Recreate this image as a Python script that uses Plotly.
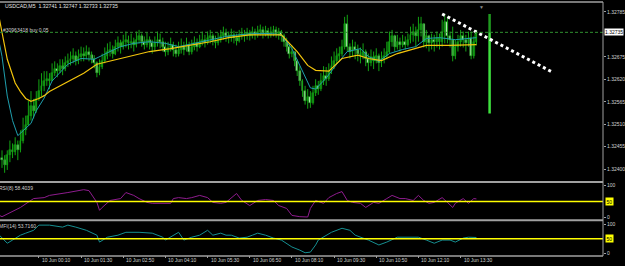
import plotly.graph_objects as go

# ---------------- data (prices in points of 0.00001 above 1.32000) ----------------
BASE = 1.32
PT = 0.00001

# M5 bars, index 0 = 7 Jun 2019 23:00
first_open_pts = 427
close_pts = [
    422, 410, 434, 446, 441, 458, 446, 470, 495, 507,
    531, 555, 543, 572, 591, 604, 616, 620, 616, 635,
    645, 640, 652, 645, 659, 664, 669, 676, 664, 674,
    683, 676, 688, 679, 669, 659, 635, 650, 664, 676,
    688, 693, 683, 700, 708, 698, 712, 717, 708, 712,
    703, 717, 725, 712, 705, 717, 708, 698, 708, 717,
    712, 700, 688, 696, 703, 693, 683, 693, 700, 693,
    703, 688, 698, 708, 700, 712, 717, 710, 720, 725,
    715, 708, 717, 727, 734, 727, 720, 729, 722, 715,
    725, 732, 725, 734, 727, 737, 729, 737, 741, 732,
    739, 729, 737, 741, 732, 737, 725, 712, 700, 683,
    688, 664, 640, 616, 591, 567, 577, 562, 587, 604,
    596, 616, 628, 620, 640, 652, 664, 676, 683, 700,
    756, 698, 688, 700, 693, 683, 676, 688, 669, 659,
    674, 664, 676, 659, 669, 676, 688, 712, 725, 700,
    712, 703, 712, 705, 717, 729, 737, 725, 741, 756,
    712, 725, 708, 717, 712, 722, 712, 737, 761, 725,
    717, 676, 700, 712, 725, 717, 708, 722, 676, 712, 734,
]
high_pts = [
    446, 434, 446, 470, 463, 478, 470, 495, 526, 531,
    567, 591, 572, 591, 620, 635, 640, 640, 635, 659,
    664, 659, 669, 669, 676, 683, 688, 696, 688, 693,
    700, 698, 703, 698, 688, 679, 664, 669, 683, 698,
    708, 712, 703, 717, 725, 717, 729, 737, 727, 732,
    722, 737, 741, 732, 725, 734, 725, 717, 725, 737,
    732, 722, 712, 712, 722, 712, 705, 712, 720, 712,
    722, 712, 717, 725, 720, 729, 737, 729, 737, 741,
    732, 727, 734, 741, 749, 744, 737, 744, 739, 732,
    741, 746, 741, 746, 741, 749, 744, 751, 754, 749,
    751, 746, 749, 751, 749, 746, 741, 732, 722, 708,
    703, 688, 669, 652, 620, 604, 596, 591, 604, 620,
    616, 635, 652, 650, 659, 676, 688, 696, 700, 717,
    773, 778, 708, 717, 712, 705, 698, 708, 693, 683,
    693, 688, 696, 683, 688, 696, 712, 737, 741, 729,
    729, 722, 729, 725, 732, 749, 756, 749, 773, 773,
    756, 741, 729, 732, 729, 737, 732, 766, 780, 773,
    737, 749, 717, 729, 741, 737, 729, 737, 737, 725, 741,
]
low_pts = [
    403, 391, 398, 417, 427, 434, 422, 441, 463, 483,
    507, 519, 524, 538, 567, 579, 591, 604, 596, 616,
    628, 625, 635, 630, 640, 650, 654, 659, 654, 657,
    664, 664, 669, 664, 659, 647, 625, 630, 645, 659,
    669, 676, 671, 679, 688, 683, 693, 698, 693, 696,
    688, 698, 708, 700, 693, 698, 693, 683, 688, 700,
    696, 688, 676, 679, 688, 676, 674, 676, 683, 679,
    688, 679, 681, 691, 688, 696, 703, 698, 705, 708,
    703, 696, 703, 710, 717, 712, 708, 712, 708, 703,
    710, 717, 712, 717, 715, 720, 717, 722, 727, 720,
    725, 720, 722, 725, 722, 717, 712, 700, 688, 671,
    674, 652, 628, 604, 577, 558, 548, 550, 558, 579,
    582, 591, 606, 604, 616, 633, 645, 657, 664, 676,
    693, 688, 671, 676, 669, 664, 659, 669, 652, 640,
    652, 645, 659, 640, 650, 659, 669, 683, 700, 688,
    693, 688, 698, 693, 700, 708, 712, 700, 712, 725,
    698, 696, 688, 693, 688, 698, 693, 700, 708, 708,
    698, 664, 669, 688, 700, 698, 688, 700, 669, 671, 703,
]

# moving averages (bar index, points)
ma_fast_idx = [-1, 0, 2, 4, 6, 8, 11, 13, 16, 19, 25, 30, 35, 41, 45, 50, 56, 62, 67, 73,
               79, 85, 90, 96, 102, 106, 110, 114, 117, 119, 123, 127, 131, 136, 139, 143,
               147, 152, 157, 161, 166, 172, 177, 180]
ma_fast_pts = [708, 676, 579, 519, 482, 495, 512, 543, 574, 616, 657, 671, 669, 688, 700, 708,
               712, 708, 700, 708, 717, 725, 729, 732, 732, 729, 695, 640, 599, 596, 623, 657,
               688, 695, 676, 664, 683, 693, 700, 720, 722, 717, 720, 722]
ma_slow_idx = [-1, 0, 2, 5, 7, 9, 11, 14, 16, 18, 22, 26, 31, 36, 44, 49, 56, 64, 71, 79,
               86, 94, 102, 106, 112, 116, 119, 124, 129, 135, 139, 144, 150, 156, 161, 170,
               177, 180]
ma_slow_pts = [768, 737, 669, 611, 590, 573, 566, 573, 580, 590, 604, 618, 635, 657, 669, 676,
               688, 695, 703, 712, 722, 729, 729, 729, 688, 654, 642, 640, 671, 679, 671, 666,
               683, 693, 703, 703, 705, 705]

# oscillator windows
osc1_idx = [-1, 0, 7, 12, 16, 18, 25, 31, 33, 36, 37, 38, 41, 45, 47, 50, 52, 55, 57, 61,
            64, 65, 67, 70, 72, 75, 78, 80, 83, 85, 88, 89, 91, 94, 97, 100, 103, 105, 108, 110,
            113, 116, 117, 119, 122, 124, 127, 129, 131, 133, 136, 138, 141, 143, 146, 148, 151,
            153, 156, 158, 160, 162, 164, 167, 169, 171, 172, 175, 177, 179, 180]
osc1_val = [6, 2, 31, 59, 62, 69, 78, 87, 84, 47, 22, 31, 53, 59, 78, 69, 59, 47, 44, 44,
            44, 59, 62, 59, 62, 69, 62, 47, 44, 47, 69, 75, 53, 37, 53, 56, 53, 37, 28, 6,
            2, 1, 28, 53, 44, 62, 75, 81, 53, 47, 44, 31, 47, 44, 59, 69, 59, 59, 53, 69,
            53, 44, 47, 62, 47, 31, 44, 59, 44, 59, 58]
osc2_idx = [-1, 2, 4, 7, 9, 12, 14, 18, 23, 25, 28, 32, 36, 37, 40, 44, 47, 52, 57, 61,
            62, 65, 67, 69, 72, 75, 78, 80, 83, 85, 87, 90, 93, 95, 97, 100, 103, 106, 110, 113,
            115, 117, 119, 120, 123, 125, 129, 132, 134, 137, 139, 143, 146, 150, 152, 156, 158,
            161, 164, 167, 170, 172, 175, 177, 180]
osc2_val = [62, 34, 45, 62, 69, 79, 97, 97, 90, 97, 90, 79, 62, 38, 55, 62, 72, 72, 69, 55,
            45, 62, 72, 45, 55, 62, 79, 62, 69, 62, 62, 52, 55, 62, 69, 62, 52, 45, 21, 10,
            1, 3, 28, 45, 62, 72, 86, 79, 62, 52, 45, 28, 38, 55, 55, 55, 55, 45, 34, 45,
            45, 38, 52, 55, 54]
osc_level = 50

# extra objects
spike_idx = 185
spike_pts = [780, 735, 536]          # top, order-line level, bottom
trend_idx = [167, 209]
trend_pts = [780, 637]
current_price = 1.32735
order_price = 1.32735

tick_idx = [14, 30, 46, 62, 78, 94, 110, 126, 142, 158, 174]
tick_text = ["10 Jun 00:10", "10 Jun 01:30", "10 Jun 02:50", "10 Jun 04:10", "10 Jun 05:30",
             "10 Jun 06:50", "10 Jun 08:10", "10 Jun 09:30", "10 Jun 10:50", "10 Jun 12:10",
             "10 Jun 13:30"]
first_label_idx = -2
first_label = "7 Jun 2019"
price_ticks = [1.32400, 1.32455, 1.32510, 1.32565, 1.32620, 1.32675, 1.32785]

title_text = "USDCAD,M5  1.32741 1.32747 1.32733 1.32735"
order_text = "#30963418 buy 0.05"
osc1_text = "RSI(8) 58.4039"
osc2_text = "MFI(14) 53.7160"


def pr(v):
    return BASE + v * PT


opens = [first_open_pts] + close_pts[:-1]
bars = list(range(len(close_pts)))
hi = [max(a, b, d) for a, b, d in zip(high_pts, opens, close_pts)]
lo = [min(a, b, d) for a, b, d in zip(low_pts, opens, close_pts)]

# wicks as segments
wx, wy = [], []
for i, a, b in zip(bars, lo, hi):
    wx += [i, i, None]
    wy += [pr(a), pr(b), None]

body_base = [pr(min(a, b)) for a, b in zip(opens, close_pts)]
body_len = [max(abs(b - a), 1) * PT for a, b in zip(opens, close_pts)]
UP_FILL, DN_FILL, EDGE = "#0e7a10", "#dcf5dc", "#13a313"
body_col = [UP_FILL if b >= a else DN_FILL for a, b in zip(opens, close_pts)]

# ---------------- figure ----------------
W, H = 625, 266
ML, MR, MT, MB = 0, 21, 0, 10
PW, PH = W - ML - MR, H - MT - MB


def py(pix):  # pixel row -> paper y
    return (PH - pix) / PH


def pxp(pix):  # pixel column -> paper x
    return pix / PW


fig = go.Figure()

fig.add_trace(go.Scatter(x=wx, y=wy, mode="lines", line=dict(color=EDGE, width=1),
                         hoverinfo="skip", xaxis="x", yaxis="y"))
fig.add_trace(go.Bar(x=bars, y=body_len, base=body_base, width=0.72,
                     marker=dict(color=body_col, line=dict(color=EDGE, width=0.5)),
                     hoverinfo="skip", xaxis="x", yaxis="y"))

fig.add_trace(go.Scatter(x=ma_fast_idx, y=[pr(v) for v in ma_fast_pts], mode="lines",
                         line=dict(color="#1f9fae", width=1), xaxis="x", yaxis="y"))
fig.add_trace(go.Scatter(x=ma_slow_idx, y=[pr(v) for v in ma_slow_pts], mode="lines",
                         line=dict(color="#f2c40c", width=1.2), xaxis="x", yaxis="y"))

fig.add_trace(go.Scatter(x=[spike_idx, spike_idx], y=[pr(spike_pts[0]), pr(spike_pts[1])],
                         mode="lines", line=dict(color="#1f9a1f", width=2.5), xaxis="x", yaxis="y"))
fig.add_trace(go.Scatter(x=[spike_idx, spike_idx], y=[pr(spike_pts[1]), pr(spike_pts[2])],
                         mode="lines", line=dict(color="#3ee03e", width=2.5), xaxis="x", yaxis="y"))

fig.add_trace(go.Scatter(x=trend_idx, y=[pr(v) for v in trend_pts], mode="lines",
                         line=dict(color="#ffffff", width=3, dash="dot"), xaxis="x", yaxis="y"))

fig.add_trace(go.Scatter(x=osc1_idx, y=osc1_val, mode="lines",
                         line=dict(color="#8e1c8e", width=1), xaxis="x", yaxis="y2"))
fig.add_trace(go.Scatter(x=osc2_idx, y=osc2_val, mode="lines",
                         line=dict(color="#168f91", width=1), xaxis="x", yaxis="y3"))

grey = "#a0a0a0"
shapes = [
    dict(type="line", xref="paper", yref="y", x0=0, x1=1, y0=order_price, y1=order_price,
         line=dict(color="#2f8f2f", width=1, dash="3px,2px")),
    dict(type="line", xref="paper", yref="y2", x0=0, x1=1, y0=osc_level, y1=osc_level,
         line=dict(color="#ffff00", width=1.5)),
    dict(type="line", xref="paper", yref="y3", x0=0, x1=1, y0=osc_level, y1=osc_level,
         line=dict(color="#ffff00", width=1.5)),
    dict(type="line", xref="paper", yref="paper", x0=0, x1=1, y0=py(181.5), y1=py(181.5),
         line=dict(color=grey, width=2)),
    dict(type="line", xref="paper", yref="paper", x0=0, x1=1, y0=py(220), y1=py(220),
         line=dict(color=grey, width=2)),
    dict(type="line", xref="paper", yref="paper", x0=0, x1=1, y0=0, y1=0,
         line=dict(color=grey, width=1.5)),
    dict(type="line", xref="paper", yref="paper", x0=0, x1=1, y0=1, y1=1,
         line=dict(color=grey, width=1.5)),
    dict(type="line", xref="paper", yref="paper", x0=1, x1=1, y0=0, y1=1,
         line=dict(color=grey, width=1)),
]

FONT = "Liberation Sans"
txt = "#d0d0d0"
ann = []
ann.append(dict(xref="paper", yref="paper", x=pxp(3), y=py(4.5), xanchor="left", yanchor="middle",
                text=title_text, showarrow=False, font=dict(family=FONT, size=5.2, color="#e6e6e6")))
ann.append(dict(xref="paper", yref="paper", x=pxp(1), y=py(28.5), xanchor="left", yanchor="middle",
                text=order_text, showarrow=False, font=dict(family=FONT, size=5, color=txt)))
ann.append(dict(xref="paper", yref="y", x=1, y=current_price, xanchor="left", yanchor="middle",
                xshift=1, text=f"{current_price:.5f}", showarrow=False,
                bgcolor="#ffffff", borderpad=0, font=dict(family=FONT, size=5, color="#000000")))
ann.append(dict(xref="paper", yref="paper", x=pxp(-3), y=py(187), xanchor="left", yanchor="middle",
                text=osc1_text, showarrow=False, font=dict(family=FONT, size=5, color=txt)))
ann.append(dict(xref="paper", yref="paper", x=pxp(-3), y=py(225.5), xanchor="left", yanchor="middle",
                text=osc2_text, showarrow=False, font=dict(family=FONT, size=5, color=txt)))
for yr in ("y2", "y3"):
    ann.append(dict(xref="paper", yref=yr, x=1, y=osc_level, xanchor="left", yanchor="middle",
                    xshift=1.5, text=str(osc_level), showarrow=False, bgcolor="#ffff00",
                    borderpad=0.5, font=dict(family=FONT, size=5, color="#000000")))
ann.append(dict(xref="x", yref="paper", x=first_label_idx, y=0, yshift=-4.5, xanchor="left",
                yanchor="middle", text=first_label, showarrow=False,
                font=dict(family=FONT, size=4.9, color=txt)))
for ti, tt in zip(tick_idx, tick_text):
    ann.append(dict(xref="x", yref="paper", x=ti, y=0, yshift=-4.5, xshift=1, xanchor="left",
                    yanchor="middle", text=tt, showarrow=False,
                    font=dict(family=FONT, size=4.9, color=txt)))
ann.append(dict(xref="paper", yref="paper", x=pxp(482), y=1, yanchor="top", xanchor="center",
                text="▼", showarrow=False, font=dict(family=FONT, size=5, color="#8a8a8a")))

axis_common = dict(showgrid=False, zeroline=False, ticks="outside", ticklen=2, tickcolor=grey,
                   tickfont=dict(family=FONT, size=5, color=txt), side="right", anchor="x",
                   showline=False, fixedrange=True)

fig.update_layout(
    width=W, height=H, margin=dict(l=ML, r=MR, t=MT, b=MB),
    paper_bgcolor="#000000", plot_bgcolor="#000000", showlegend=False,
    barmode="overlay", bargap=0,
    font=dict(family=FONT, size=5, color=txt),
    xaxis=dict(domain=[0, 1], range=[-0.76, 228.03], anchor="y3", showgrid=False,
               zeroline=False, showticklabels=False, ticks="outside", ticklen=2,
               tickcolor=grey, tickvals=tick_idx, showline=False, fixedrange=True),
    yaxis=dict(domain=[py(179), py(1)], range=[1.323743, 1.328069], tickvals=price_ticks,
               ticktext=[f"{v:.5f}" for v in price_ticks], **axis_common),
    yaxis2=dict(domain=[py(218), py(184)], range=[-3.1, 103.1], tickvals=[0, 100],
                **axis_common),
    yaxis3=dict(domain=[py(255), py(222)], range=[-6.9, 106.9], tickvals=[0, 100],
                **axis_common),
    shapes=shapes, annotations=ann,
)

fig.write_html("out.html")
